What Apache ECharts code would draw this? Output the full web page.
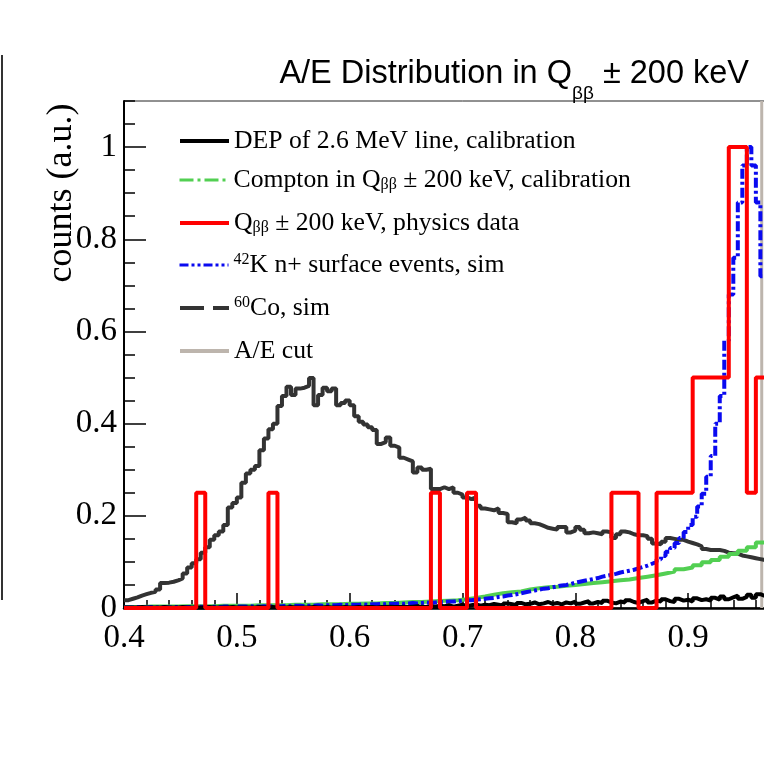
<!DOCTYPE html>
<html lang="en">
<head>
<meta charset="UTF-8">
<title>A/E distribution</title>
<script src="https://cdn.jsdelivr.net/npm/echarts@6.0.0/dist/echarts.min.js"></script>
<style>
  body { margin: 0; padding: 0; background: #fff; overflow: hidden; }
  /* the plot continues past the right edge of the window, like the cropped original */
  #chart { width: 801px; height: 776px; }
</style>
</head>
<body>
<div id="chart"></div>
<script>
// A/E bin start values
var binStart = 0.4;
var fineBin = 0.004;    // Co60, K42, DEP
var coarseBin = 0.008;  // Compton
var yTop = 1.1;

// 60Co simulation (dark grey)
var co60 = [
  0.017, 0.020, 0.023, 0.027, 0.030, 0.033, 0.035, 0.040, 0.054, 0.055,
  0.057, 0.060, 0.064, 0.075, 0.088, 0.097, 0.106, 0.120, 0.132, 0.148,
  0.158, 0.166, 0.180, 0.218, 0.228, 0.240, 0.272, 0.292, 0.300, 0.308,
  0.342, 0.368, 0.388, 0.400, 0.438, 0.460, 0.480, 0.462, 0.476, 0.478,
  0.482, 0.499, 0.440, 0.462, 0.478, 0.470, 0.476, 0.440, 0.445, 0.450,
  0.440, 0.416, 0.404, 0.398, 0.392, 0.386, 0.356, 0.360, 0.370, 0.352,
  0.348, 0.326, 0.322, 0.318, 0.294, 0.305, 0.300, 0.302, 0.258, 0.258,
  0.262, 0.258, 0.262, 0.250, 0.246, 0.240, 0.236, 0.240, 0.222, 0.216,
  0.214, 0.212, 0.216, 0.206, 0.204, 0.186, 0.184, 0.192, 0.196, 0.190,
  0.184, 0.182, 0.178, 0.174, 0.172, 0.170, 0.176, 0.176, 0.164, 0.168,
  0.176, 0.170, 0.162, 0.164, 0.162, 0.160, 0.166, 0.164, 0.152, 0.160,
  0.166, 0.164, 0.160, 0.158, 0.158, 0.156, 0.150, 0.140, 0.138, 0.144,
  0.152, 0.150, 0.148, 0.148, 0.144, 0.141, 0.138, 0.134, 0.128, 0.126,
  0.126, 0.126, 0.124, 0.120, 0.119, 0.118, 0.114, 0.112, 0.110, 0.108,
  0.106, 0.104
];

// 42K n+ surface events simulation (blue)
var k42 = [
  0.001, 0.001, 0.002, 0.001, 0.001, 0.002, 0.001, 0.002, 0.002, 0.001,
  0.002, 0.002, 0.001, 0.002, 0.002, 0.002, 0.003, 0.002, 0.002, 0.003,
  0.002, 0.003, 0.003, 0.002, 0.003, 0.003, 0.003, 0.004, 0.003, 0.003,
  0.004, 0.003, 0.004, 0.004, 0.004, 0.005, 0.004, 0.005, 0.005, 0.004,
  0.005, 0.005, 0.006, 0.005, 0.006, 0.006, 0.006, 0.007, 0.006, 0.007,
  0.007, 0.007, 0.008, 0.007, 0.008, 0.008, 0.009, 0.008, 0.009, 0.009,
  0.010, 0.009, 0.010, 0.011, 0.010, 0.011, 0.012, 0.011, 0.012, 0.013,
  0.013, 0.014, 0.014, 0.015, 0.016, 0.017, 0.017, 0.018, 0.019, 0.020,
  0.021, 0.022, 0.024, 0.025, 0.027, 0.028, 0.030, 0.032, 0.034, 0.036,
  0.038, 0.040, 0.042, 0.043, 0.045, 0.047, 0.049, 0.050, 0.052, 0.055,
  0.057, 0.059, 0.061, 0.063, 0.065, 0.068, 0.070, 0.072, 0.074, 0.077,
  0.079, 0.081, 0.083, 0.086, 0.089, 0.092, 0.096, 0.100, 0.106, 0.113,
  0.122, 0.130, 0.141, 0.152, 0.165, 0.180, 0.198, 0.220, 0.248, 0.285,
  0.330, 0.400, 0.460, 0.580, 0.680, 0.760, 0.880, 0.960, 1.000, 0.960,
  0.880, 0.720
];

// DEP of 2.6 MeV line, calibration (black)
var dep = [
  0.001, 0.001, 0.001, 0.002, 0.001, 0.001, 0.001, 0.001, 0.002, 0.001,
  0.001, 0.001, 0.002, 0.001, 0.001, 0.001, 0.001, 0.001, 0.002, 0.001,
  0.001, 0.001, 0.001, 0.002, 0.001, 0.001, 0.001, 0.001, 0.001, 0.002,
  0.001, 0.001, 0.002, 0.001, 0.001, 0.001, 0.002, 0.001, 0.001, 0.001,
  0.001, 0.002, 0.001, 0.001, 0.002, 0.001, 0.001, 0.001, 0.002, 0.001,
  0.001, 0.002, 0.001, 0.002, 0.002, 0.001, 0.002, 0.002, 0.003, 0.002,
  0.002, 0.003, 0.002, 0.003, 0.004, 0.003, 0.002, 0.004, 0.003, 0.005,
  0.004, 0.006, 0.003, 0.005, 0.007, 0.004, 0.006, 0.008, 0.005, 0.007,
  0.006, 0.009, 0.007, 0.005, 0.010, 0.008, 0.006, 0.011, 0.008, 0.009,
  0.012, 0.008, 0.010, 0.013, 0.009, 0.011, 0.008, 0.012, 0.010, 0.014,
  0.009, 0.012, 0.015, 0.010, 0.013, 0.011, 0.016, 0.012, 0.010, 0.014,
  0.012, 0.017, 0.013, 0.011, 0.015, 0.018, 0.012, 0.016, 0.014, 0.019,
  0.015, 0.013, 0.020, 0.016, 0.018, 0.014, 0.021, 0.017, 0.019, 0.016,
  0.022, 0.018, 0.025, 0.019, 0.023, 0.027, 0.020, 0.024, 0.029, 0.022,
  0.030, 0.026
];

// Compton in Qbb +- 200 keV, calibration (green), 0.008 bins
var compton = [
  0.002, 0.002, 0.003, 0.003, 0.003, 0.003, 0.004, 0.004, 0.004, 0.004,
  0.005, 0.005, 0.005, 0.005, 0.006, 0.006, 0.006, 0.006, 0.007, 0.007,
  0.007, 0.008, 0.008, 0.008, 0.009, 0.009, 0.010, 0.010, 0.011, 0.011,
  0.012, 0.013, 0.013, 0.014, 0.015, 0.016, 0.017, 0.019, 0.022, 0.025,
  0.029, 0.032, 0.034, 0.036, 0.040, 0.043, 0.045, 0.046, 0.048, 0.050,
  0.052, 0.054, 0.056, 0.058, 0.060, 0.062, 0.065, 0.068, 0.071, 0.075,
  0.079, 0.084, 0.088, 0.093, 0.099, 0.104, 0.111, 0.117, 0.124, 0.132,
  0.142
];

// physics data in Qbb +- 200 keV (red): bin edges and normalised contents
var physEdges = [0.400, 0.464, 0.472, 0.528, 0.536, 0.672, 0.680, 0.704, 0.712,
                 0.832, 0.856, 0.872, 0.904, 0.936, 0.952, 0.960, 0.968];
var physValues = [0, 0.25, 0, 0.25, 0, 0.25, 0, 0.25, 0, 0.25, 0, 0.25, 0.5, 1.0, 0.25, 0.5];

var aeCut = 0.9652;

var legendText = {
  'DEP': '{t|DEP of 2.6 MeV line, calibration}',
  'Compton': '{t|Compton in Q}{sub|\u03b2\u03b2}{t| \u00b1 200 keV, calibration}',
  'Physics': '{t|Q}{sub|\u03b2\u03b2}{t| \u00b1 200 keV, physics data}',
  'K42': '{sup|42}{t|K n+ surface events, sim}',
  'Co60': '{sup|60}{t|Co, sim}',
  'AE cut': '{t|A/E cut}'
};

function histPoints(values, w) {
  var pts = values.map(function (v, i) { return [binStart + w * i, v]; });
  pts.push([binStart + w * values.length, values[values.length - 1]]);
  return pts;
}
function edgePoints(edges, values) {
  var pts = values.map(function (v, i) { return [edges[i], v]; });
  pts.push([edges[edges.length - 1], values[values.length - 1]]);
  return pts;
}

var chart = echarts.init(document.getElementById('chart'));
var serif = 'Liberation Serif';

var legendRich = {
  t: { fontFamily: serif, fontSize: 25.7, color: '#000' },
  sub: { fontFamily: serif, fontSize: 16, color: '#000', verticalAlign: 'bottom' },
  sup: { fontFamily: serif, fontSize: 16, color: '#000', verticalAlign: 'top' }
};

// one legend block per entry so the rows sit where they do in the original
var legendRows = [
  { name: 'DEP', top: 128, lineStyle: { width: 4, type: 'solid' } },
  { name: 'Compton', top: 167, lineStyle: { width: 3, type: [14, 4, 3, 4] } },
  { name: 'Physics', top: 210, lineStyle: { width: 4, type: 'solid' } },
  { name: 'K42', top: 252, lineStyle: { width: 3, type: [9, 3, 3, 3, 3, 3] } },
  { name: 'Co60', top: 295, lineStyle: { width: 4, type: [24, 9] } },
  { name: 'AE cut', top: 338, lineStyle: { width: 4, type: 'solid' } }
];

var legends = legendRows.map(function (row) {
  return {
    orient: 'vertical',
    left: 178,
    top: row.top,
    padding: 0,
    itemWidth: 49,
    itemHeight: 14,
    selectedMode: false,
    formatter: function (name) { return legendText[name]; },
    textStyle: { rich: legendRich },
    itemStyle: { color: 'rgba(0,0,0,0)', borderWidth: 0, opacity: 0 },
    data: [{ name: row.name, lineStyle: row.lineStyle }]
  };
});

var option = {
  animation: false,
  backgroundColor: '#ffffff',
  title: {
    text: '{t|A/E Distribution in Q}{s|\u03b2\u03b2}{t| \u00b1 200 keV}',
    right: 47,
    top: 53,
    textStyle: {
      rich: {
        t: { fontFamily: 'Liberation Sans', fontSize: 32.5, fontWeight: 'normal', color: '#000', verticalAlign: 'top' },
        s: { fontFamily: 'Liberation Sans', fontSize: 19, fontWeight: 'normal', color: '#000', verticalAlign: 'bottom', lineHeight: 45 }
      }
    }
  },
  legend: legends,
  grid: {
    left: 124,
    right: 0,
    top: 101,
    bottom: 168,
    outerBoundsMode: 'none',
    containLabel: false,
    show: true,
    borderColor: '#222',
    borderWidth: 1
  },
  xAxis: {
    type: 'value',
    min: 0.4,
    max: 1.0,
    interval: 0.1,
    axisLine: { lineStyle: { color: '#000', width: 2.5 } },
    axisTick: { inside: true, length: 15, lineStyle: { color: '#000', width: 1.5 } },
    minorTick: { show: true, splitNumber: 5, length: 8, lineStyle: { color: '#000', width: 1.5 } },
    splitLine: { show: false },
    axisLabel: {
      margin: 14,
      color: '#000',
      fontFamily: serif,
      fontSize: 33,
      formatter: function (v) { return v.toFixed(1); }
    }
  },
  yAxis: [
    {
      type: 'value',
      min: 0,
      max: yTop,
      interval: 0.2,
      axisLine: { show: true, lineStyle: { color: '#000', width: 2 } },
      axisTick: { inside: true, length: 22, lineStyle: { color: '#000', width: 1.5 } },
      splitLine: { show: false },
      axisLabel: {
        margin: 7,
        color: '#000',
        fontFamily: serif,
        fontSize: 33,
        showMaxLabel: false,
        formatter: function (v) { return (v === 0 || v === 1) ? String(v) : v.toFixed(1); }
      }
    },
    {
      type: 'value',
      position: 'left',
      min: 0,
      max: yTop,
      interval: 0.05,
      axisLine: { show: false },
      axisTick: { show: true, inside: true, length: 11, lineStyle: { color: '#000', width: 1.5 } },
      splitLine: { show: false },
      axisLabel: { show: false }
    }
  ],
  graphic: [
    {
      type: 'rect',
      left: 1,
      top: 55,
      shape: { width: 2, height: 545 },
      style: { fill: '#333' }
    },
    {
      type: 'text',
      x: 62,
      y: 193,
      rotation: Math.PI / 2,
      style: {
        text: 'counts (a.u.)',
        fontFamily: serif,
        fontSize: 36,
        fill: '#000',
        align: 'center',
        verticalAlign: 'middle'
      }
    }
  ],
  series: [
    {
      name: 'AE cut',
      type: 'line',
      symbol: 'none',
      color: '#bdb5ad',
      lineStyle: { width: 3, color: '#bdb5ad' },
      data: [[aeCut, 0], [aeCut, yTop]],
      silent: true,
      z: 1
    },
    {
      name: 'Co60',
      type: 'line',
      step: 'end',
      symbol: 'none',
      color: '#333333',
      lineStyle: { width: 4, color: '#333333' },
      data: histPoints(co60, fineBin),
      silent: true,
      z: 2
    },
    {
      name: 'Compton',
      type: 'line',
      step: 'end',
      symbol: 'none',
      color: '#52cf52',
      lineStyle: { width: 4, color: '#52cf52' },
      data: histPoints(compton, coarseBin),
      silent: true,
      z: 3
    },
    {
      name: 'K42',
      type: 'line',
      step: 'end',
      symbol: 'none',
      color: '#0a0af0',
      lineStyle: { width: 4, color: '#0a0af0', type: [10, 3, 3, 3] },
      data: histPoints(k42, fineBin),
      silent: true,
      z: 4
    },
    {
      name: 'DEP',
      type: 'line',
      step: 'end',
      symbol: 'none',
      color: '#000000',
      lineStyle: { width: 4, color: '#000000' },
      data: histPoints(dep, fineBin),
      silent: true,
      z: 5
    },
    {
      name: 'Physics',
      type: 'line',
      step: 'end',
      symbol: 'none',
      color: '#ff0000',
      lineStyle: { width: 4, color: '#ff0000' },
      data: edgePoints(physEdges, physValues),
      silent: true,
      z: 6
    }
  ]
};

chart.setOption(option);
</script>
</body>
</html>
